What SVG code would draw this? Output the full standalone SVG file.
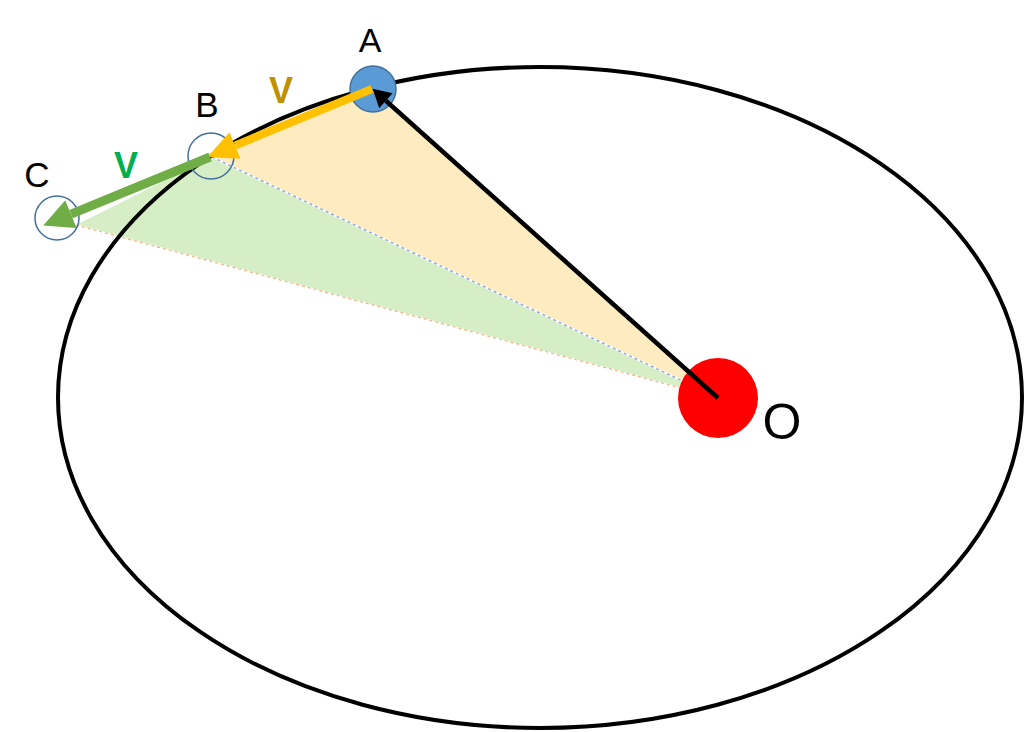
<svg xmlns="http://www.w3.org/2000/svg" width="1024" height="732" viewBox="0 0 1024 732">
<style>
.lbl{font-family:"Liberation Sans",Arial,sans-serif;fill:#000;text-anchor:middle}
.v{font-family:"Liberation Sans",Arial,sans-serif;font-weight:bold;text-anchor:middle}
.hollow{fill:none;stroke:#41719C;stroke-width:1.5}
</style>
<defs>
<marker id="hY" markerUnits="userSpaceOnUse" markerWidth="30" markerHeight="30" refX="0" refY="12" orient="auto" viewBox="0 0 25 24"><path d="M0,0 L25,12 L0,24 z" fill="#FFC000"/></marker>
<marker id="hG" markerUnits="userSpaceOnUse" markerWidth="30" markerHeight="30" refX="0" refY="13" orient="auto" viewBox="0 0 26 26"><path d="M0,0 L26,13 L0,26 z" fill="#70AD47"/></marker>
<marker id="hK" markerUnits="userSpaceOnUse" markerWidth="20" markerHeight="20" refX="0" refY="9" orient="auto" viewBox="0 0 16 18"><path d="M0,0 L16,9 L0,18 z" fill="#000"/></marker>
</defs>
<rect width="1024" height="732" fill="#fff"/>
<g id="sectors">
<polygon points="373,89 212,157 718,398" fill="#FFEBC0"/>
<polygon points="212,157 76,225 718,398" fill="#D6EEC6"/>
<line x1="212" y1="157" x2="718" y2="398" stroke="#fff" stroke-width="2"/>
<line x1="212" y1="157" x2="718" y2="398" stroke="#8FAADC" stroke-width="1.5" stroke-dasharray="3,3"/>
<line x1="76" y1="225" x2="718" y2="398" stroke="#fff" stroke-width="1.5"/>
<line x1="76" y1="225" x2="718" y2="398" stroke="#F4B183" stroke-width="1.2" stroke-dasharray="3,3"/>
</g>
<g id="orbit">
<ellipse cx="540" cy="397.5" rx="482" ry="330.5" fill="none" stroke="#000" stroke-width="4"/>
</g>
<g id="O">
<circle cx="718" cy="398" r="40" fill="#FF0000"/>
<text class="lbl" x="782" y="439" font-size="50">O</text>
</g>
<g id="A">
<circle cx="373" cy="89" r="23" fill="#5B9BD5" stroke="#41719C" stroke-width="1.5"/>
<text class="lbl" x="370" y="52" font-size="34">A</text>
</g>
<g id="B">
<circle class="hollow" cx="211" cy="156" r="23"/>
<text class="lbl" x="207" y="117" font-size="35">B</text>
</g>
<g id="C">
<circle class="hollow" cx="57" cy="218" r="22"/>
<text class="lbl" x="37" y="187" font-size="35">C</text>
</g>
<g id="connectors">
<line x1="718" y1="398" x2="385.9" y2="100.7" stroke="#000" stroke-width="4.5" marker-end="url(#hK)"/>
<line x1="372" y1="89" x2="235.1" y2="145.5" stroke="#FFC000" stroke-width="8" marker-end="url(#hY)"/>
<line x1="210" y1="157" x2="71" y2="214.1" stroke="#70AD47" stroke-width="9" marker-end="url(#hG)"/>
</g>
<g id="labels">
<text class="v" x="281" y="103" font-size="36" fill="#BF9000">V</text>
<text class="v" x="126" y="178" font-size="36" fill="#00B050">V</text>
</g>
</svg>
